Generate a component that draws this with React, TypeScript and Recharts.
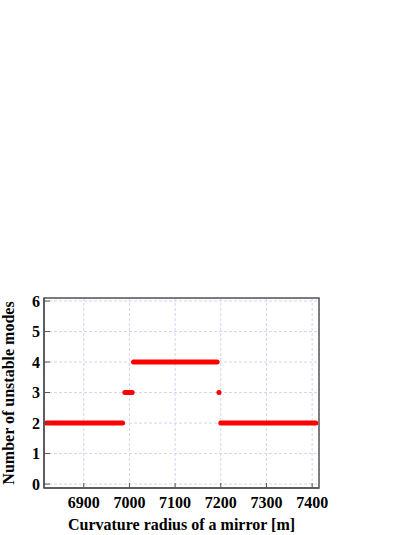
import React from 'react'
import {
  CartesianGrid,
  Label,
  Line,
  LineChart,
  ReferenceArea,
  XAxis,
  YAxis,
} from 'recharts'

// Each run of points at one mode count (radius in m).
const modeLevels = [2, 3, 4, 3, 2]
const runStart = [6818, 6990, 7009, 7196, 7200]
const runEnd = [6985, 7006, 7192, 7196, 7408]

const xTicks = [6900, 7000, 7100, 7200, 7300, 7400]
const yTicks = [0, 1, 2, 3, 4, 5, 6]

const X_DOMAIN = [6813, 7415]
const Y_DOMAIN = [-0.13, 6.1]

const FONT = '"Liberation Serif", "Times New Roman", serif'
const FRAME = '#555'

const runs = modeLevels.map((n, i) => [
  { r: runStart[i], n },
  { r: runEnd[i], n },
])

const tickStyle = { fill: '#000', fontFamily: FONT, fontWeight: 'bold', fontSize: 16 }

export default function App() {
  return (
    <div style={{ position: 'absolute', left: 0, top: 0 }}>
      <LineChart
        width={414}
        height={535}
        margin={{ top: 298, right: 95, bottom: 0, left: 0 }}
      >
        <CartesianGrid stroke="#d4d4f4" strokeDasharray="3 2" />
        <XAxis
          dataKey="r"
          type="number"
          domain={X_DOMAIN}
          ticks={xTicks}
          allowDuplicatedCategory={false}
          height={47}
          tickSize={-5}
          tickMargin={14}
          axisLine={{ stroke: FRAME, strokeWidth: 1.5 }}
          tickLine={{ stroke: FRAME }}
          tick={tickStyle}
        >
          <Label
            value="Curvature radius of a mirror [m]"
            position="insideBottom"
            offset={5}
            style={{ fill: '#000', fontFamily: FONT, fontWeight: 'bold', fontSize: 16 }}
          />
        </XAxis>
        <YAxis
          type="number"
          domain={Y_DOMAIN}
          ticks={yTicks}
          width={44}
          tickSize={-6}
          tickMargin={10}
          axisLine={{ stroke: FRAME, strokeWidth: 1.5 }}
          tickLine={{ stroke: FRAME }}
          tick={tickStyle}
        >
          <Label
            value="Number of unstable modes"
            angle={-90}
            position="insideLeft"
            offset={8}
            style={{
              fill: '#000',
              fontFamily: FONT,
              fontWeight: 'bold',
              fontSize: 16,
              textAnchor: 'middle',
            }}
          />
        </YAxis>
        <ReferenceArea
          x1={X_DOMAIN[0]}
          x2={X_DOMAIN[1]}
          y1={Y_DOMAIN[0]}
          y2={Y_DOMAIN[1]}
          fill="none"
          stroke={FRAME}
          strokeWidth={1.5}
        />
        {runs.map((d, i) => (
          <Line
            key={i}
            data={d}
            dataKey="n"
            type="linear"
            stroke="#ff0000"
            strokeWidth={5}
            strokeLinecap="round"
            dot={false}
            activeDot={false}
            isAnimationActive={false}
          />
        ))}
      </LineChart>
    </div>
  )
}
